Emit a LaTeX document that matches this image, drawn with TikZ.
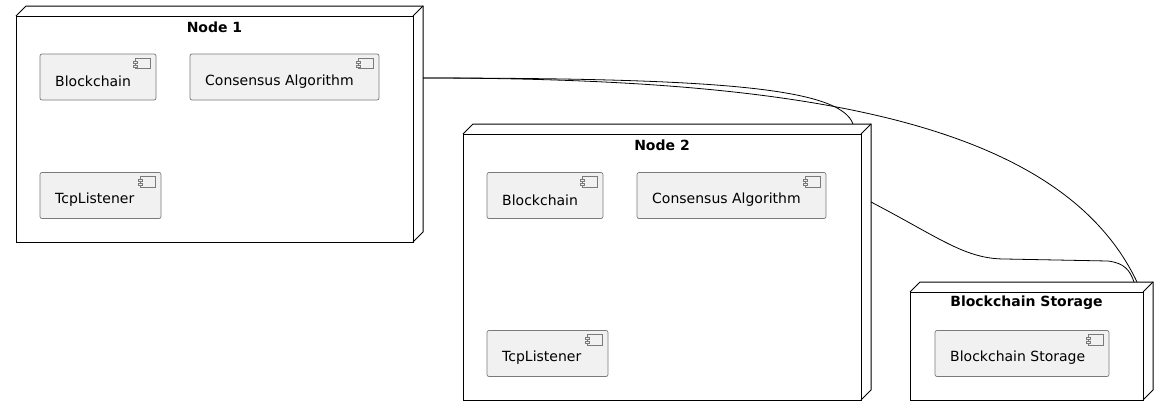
\documentclass[tikz,border=0pt]{standalone}
\usepackage{fontspec}
\setmainfont{DejaVu Sans}
\definecolor{compfill}{HTML}{F1F1F1}
\definecolor{compdraw}{HTML}{7A7A7A}
\tikzset{
  comptext/.style={anchor=west,inner sep=0pt,font=\fontsize{14}{16}\selectfont},
  nodetitle/.style={inner sep=0pt,font=\fontsize{14}{16}\selectfont\bfseries},
  conn/.style={draw=black,line width=0.8pt},
}
% component: #1 left, #2 top, #3 width, #4 text, #5 name
\newcommand{\mycomp}[5]{%
  \draw[compdraw,fill=compfill,line width=0.7pt,rounded corners=2pt] (#1,#2) rectangle ++(#3,46);
  \draw[compdraw,line width=0.6pt,fill=compfill] (#1+#3-21,#2+4) rectangle (#1+#3-6,#2+14.5);
  \draw[compdraw,line width=0.6pt,fill=compfill] (#1+#3-23,#2+7) rectangle (#1+#3-19,#2+9);
  \draw[compdraw,line width=0.6pt,fill=compfill] (#1+#3-23,#2+11) rectangle (#1+#3-19,#2+13);
  \node[comptext] (#5) at (#1+15,#2+27.5) {#4};
}
% deployment node: #1 x1, #2 y1, #3 x2, #4 y2, #5 title, #6 name
\newcommand{\mynode}[6]{%
  \draw[line width=1pt,line join=miter] (#1,#2) rectangle (#3,#4);
  \draw[line width=1pt,line join=miter] (#1,#2) -- (#1+10,#2-10) -- (#3+10,#2-10) -- (#3+10,#4-10) -- (#3,#4);
  \draw[line width=1pt] (#3,#2) -- (#3+10,#2-10);
  \coordinate (#6) at ({(#1+#3)/2},#2);
  \node[nodetitle] (#6title) at ({(#1+#3)/2},#2+11) {#5};
}
\begin{document}
\begin{tikzpicture}[x=1pt,y=-1pt]
\useasboundingbox (0,0) rectangle (1169,416);
\fill[white] (0,0) rectangle (1169,416);

\mynode{16}{16}{413}{242}{Node 1}{n1}
\mycomp{40}{54}{116}{Blockchain}{c1}
\mycomp{190}{54}{189}{Consensus Algorithm}{c2}
\mycomp{40}{172.5}{121}{TcpListener}{c3}

\mynode{463}{134}{861}{400}{Node 2}{n2}
\mycomp{487}{172.5}{116}{Blockchain}{c4}
\mycomp{637}{172.5}{189}{Consensus Algorithm}{c5}
\mycomp{487}{330.5}{121}{TcpListener}{c6}

\mynode{910}{292}{1143}{400}{Blockchain Storage}{n3}
\mycomp{935}{330.5}{174}{Blockchain Storage}{c7}

\coordinate (n1r) at (423,78);
\coordinate (n2t) at (853,124);
\coordinate (n2r) at (871,202);
\coordinate (n3a) at (1137,282);
\coordinate (n3b) at (1134,282);

\draw[conn] (n1r) .. controls (720,78) and (840,88) .. (n2t);
\draw[conn] (n1r) .. controls (800,78) and (1060,120) .. (n3a);
\draw[conn] (n2r) .. controls (940,238) and (965,259) .. (1005,259)
  -- (1108,261) .. controls (1124,263) and (1130,270) .. (n3b);
\end{tikzpicture}
\end{document}
